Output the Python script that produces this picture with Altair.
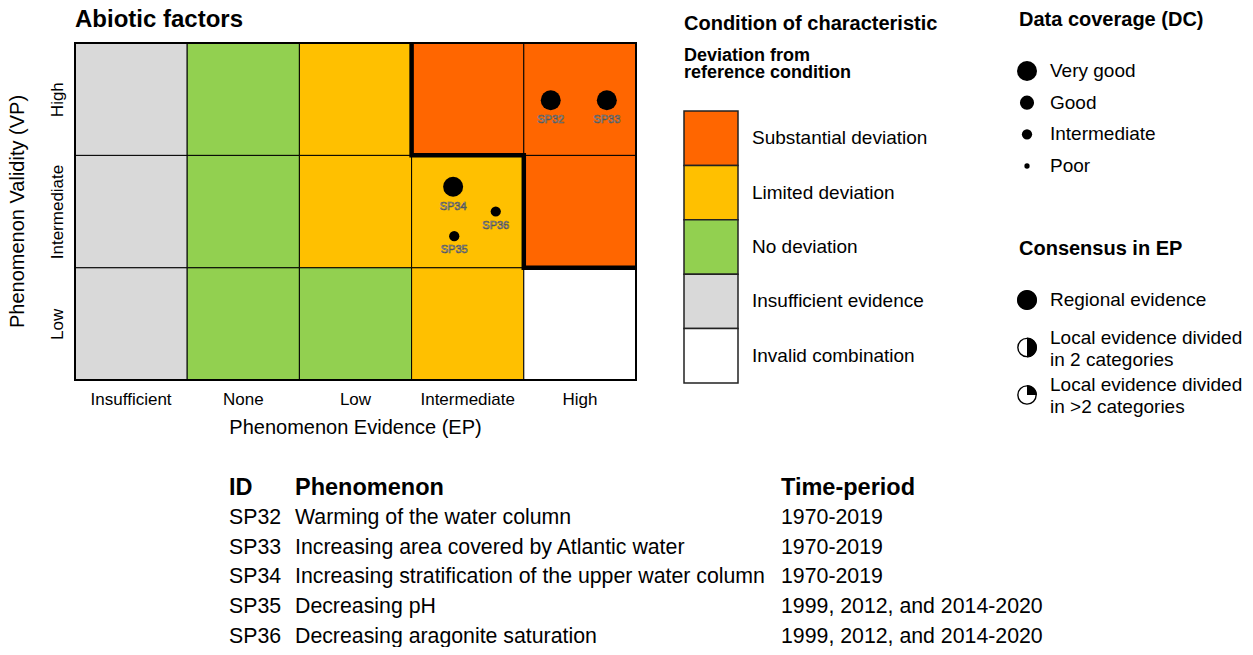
import json
import math
import altair as alt
import pandas as pd

# ---------------- data ----------------
EP_LEVELS = ["Insufficient", "None", "Low", "Intermediate", "High"]
VP_LEVELS = ["Low", "Intermediate", "High"]
STATUS = ["Substantial deviation", "Limited deviation", "No deviation",
          "Insufficient evidence", "Invalid combination"]
STATUS_COLORS = ["#FF6600", "#FFC000", "#92D050", "#D9D9D9", "#FFFFFF"]
GRID_LOW = ["Insufficient evidence", "No deviation", "No deviation",
            "Limited deviation", "Invalid combination"]
GRID_INTERMEDIATE = ["Insufficient evidence", "No deviation", "Limited deviation",
                     "Limited deviation", "Substantial deviation"]
GRID_HIGH = ["Insufficient evidence", "No deviation", "Limited deviation",
             "Substantial deviation", "Substantial deviation"]
# boundary of the "substantial deviation" region, as grid edges (EP, VP)
BOUNDARY_EP = [3, 3, 4, 4, 5]
BOUNDARY_VP = [3, 2, 2, 1, 1]

IDS = ["SP32", "SP33", "SP34", "SP35", "SP36"]
PT_EP = ["High", "High", "Intermediate", "Intermediate", "Intermediate"]
PT_VP = ["High", "High", "Intermediate", "Intermediate", "Intermediate"]
PT_DC = ["Very good", "Very good", "Very good", "Intermediate", "Intermediate"]
PT_CONSENSUS = ["Regional evidence"] * 5
PT_CELL_X = [0.24, 0.74, 0.37, 0.38, 0.75]
PT_CELL_Y = [0.49, 0.49, 0.72, 0.28, 0.50]

PHENOMENA = ["Warming of the water column",
             "Increasing area covered by Atlantic water",
             "Increasing stratification of the upper water column",
             "Decreasing pH",
             "Decreasing aragonite saturation"]
PERIODS = ["1970-2019", "1970-2019", "1970-2019",
           "1999, 2012, and 2014-2020", "1999, 2012, and 2014-2020"]
TABLE_HEAD = ["ID", "Phenomenon", "Time-period"]

DC_LEVELS = ["Very good", "Good", "Intermediate", "Poor"]
CONS_LEVELS = ["Regional evidence",
               "Local evidence divided\nin 2 categories",
               "Local evidence divided\nin >2 categories"]
CONS_SHARE = [1.0, 0.5, 0.25]

TITLE = "Abiotic factors"
X_TITLE = "Phenomenon Evidence (EP)"
Y_TITLE = "Phenomenon Validity (VP)"
LEG1_TITLE = "Condition of characteristic"
LEG1_SUB = "Deviation from\nreference condition"
LEG2_TITLE = "Data coverage (DC)"
LEG3_TITLE = "Consensus in EP"

FONT = "Liberation Sans"
DC_SIZES = [400, 200, 105, 28]


def wedge_path(share):
    """SVG symbol path (unit square) of a black wedge covering `share` of a disc."""
    if share >= 1:
        return "M0,-1 A1,1 0 1,1 0,1 A1,1 0 1,1 0,-1 Z"
    a = share * 2 * math.pi
    large = 1 if share > 0.5 else 0
    return f"M0,0 L0,-1 A1,1 0 {large},1 {math.sin(a):.4f},{-math.cos(a):.4f} Z"


# ---------------- tables ----------------
grid_rows = {"Low": GRID_LOW, "Intermediate": GRID_INTERMEDIATE, "High": GRID_HIGH}
cells = pd.DataFrame([
    {"ep": ep, "vp": vp, "status": grid_rows[vp][i],
     "x0": i, "x1": i + 1, "y0": VP_LEVELS.index(vp), "y1": VP_LEVELS.index(vp) + 1}
    for vp in VP_LEVELS for i, ep in enumerate(EP_LEVELS)
])
ep_df = pd.DataFrame({"ep": EP_LEVELS, "xc": [i + 0.5 for i in range(len(EP_LEVELS))]})
frame = pd.DataFrame({"x0": [0], "x1": [len(EP_LEVELS)], "y0": [0], "y1": [len(VP_LEVELS)]})
boundary = pd.DataFrame({"bx": BOUNDARY_EP, "by": BOUNDARY_VP, "k": range(len(BOUNDARY_EP))})
points = pd.DataFrame({
    "id": IDS, "dc": PT_DC, "cons": PT_CONSENSUS,
    "px": [EP_LEVELS.index(e) + f for e, f in zip(PT_EP, PT_CELL_X)],
    "py": [VP_LEVELS.index(v) + f for v, f in zip(PT_VP, PT_CELL_Y)],
})
status_df = pd.DataFrame({"status": STATUS, "i": range(len(STATUS))})
dc_df = pd.DataFrame({"dc": DC_LEVELS, "i": range(len(DC_LEVELS))})
cons_df = pd.DataFrame({"label": CONS_LEVELS, "share": CONS_SHARE, "i": range(len(CONS_LEVELS))})
head_df = pd.DataFrame({"t": TABLE_HEAD, "c": range(3), "r": [0, 0, 0]})
rows = []
for r, (a, b, c) in enumerate(zip(IDS, PHENOMENA, PERIODS), start=1):
    rows += [{"t": a, "c": 0, "r": r}, {"t": b, "c": 1, "r": r}, {"t": c, "c": 2, "r": r}]
body_df = pd.DataFrame(rows)

# ---------------- scales ----------------
GX = alt.Scale(domain=[0, len(EP_LEVELS)], range=[0, 561], nice=False, zero=False)
GY = alt.Scale(domain=[0, len(VP_LEVELS)], range=[337, 0], nice=False, zero=False)
fill_scale = alt.Scale(domain=STATUS, range=STATUS_COLORS)
size_scale = alt.Scale(type="ordinal", domain=DC_LEVELS, range=DC_SIZES)
shape_scale = alt.Scale(domain=CONS_LEVELS, range=[wedge_path(s) for s in CONS_SHARE])

vp_expr = json.dumps(VP_LEVELS) + "[floor(datum.value)]"

heat = alt.Chart(cells).mark_rect(stroke="black", strokeWidth=1).encode(
    x=alt.X("x0:Q", scale=GX, axis=None),
    x2="x1:Q",
    y=alt.Y("y0:Q", scale=GY, axis=alt.Axis(
        values=[i + 0.5 for i in range(len(VP_LEVELS))], labelExpr=vp_expr,
        ticks=False, domain=False, grid=False, labelFontSize=17, labelColor="black",
        labelAngle=-90, labelAlign="center", labelBaseline="bottom", labelPadding=9,
        title=None, labelFont=FONT)),
    y2="y1:Q",
    fill=alt.Fill("status:N", scale=fill_scale, legend=None),
)

xlabels = alt.Chart(ep_df).mark_text(
    align="center", baseline="middle", fontSize=17, font=FONT, color="black").encode(
    x=alt.X("xc:Q", scale=GX, axis=None), y=alt.value(357), text="ep:N")

frame_l = alt.Chart(frame).mark_rect(fillOpacity=0, stroke="black", strokeWidth=2).encode(
    x=alt.X("x0:Q", scale=GX, axis=None), x2="x1:Q",
    y=alt.Y("y0:Q", scale=GY, axis=None), y2="y1:Q")

boundary_l = alt.Chart(boundary).mark_line(color="black", strokeWidth=4.5,
                                           strokeJoin="miter", strokeCap="butt").encode(
    x=alt.X("bx:Q", scale=GX, axis=None), y=alt.Y("by:Q", scale=GY, axis=None),
    order="k:O")

pts = alt.Chart(points).mark_circle(color="black", opacity=1).encode(
    x=alt.X("px:Q", scale=GX, axis=None), y=alt.Y("py:Q", scale=GY, axis=None),
    size=alt.Size("dc:N", scale=size_scale, legend=None))

lab_style = dict(fontSize=11, fill="#f4f4f4", stroke="#555555", strokeWidth=0.7,
                 align="center", baseline="middle", font=FONT)
lab_big = alt.Chart(points).transform_filter(alt.datum.dc == "Very good").mark_text(dy=20, **lab_style).encode(
    x=alt.X("px:Q", scale=GX, axis=None), y=alt.Y("py:Q", scale=GY, axis=None), text="id:N")
lab_small = alt.Chart(points).transform_filter(alt.datum.dc != "Very good").mark_text(dy=14, **lab_style).encode(
    x=alt.X("px:Q", scale=GX, axis=None), y=alt.Y("py:Q", scale=GY, axis=None), text="id:N")


def heading(txt, x, y, size, weight="bold", line_height=None, align="left", angle=None):
    kw = dict(align=align, baseline="middle", fontSize=size, fontWeight=weight,
              font=FONT, color="black", lineBreak="\n")
    if line_height:
        kw["lineHeight"] = line_height
    if angle is not None:
        kw["angle"] = angle
    return alt.Chart(pd.DataFrame({"t": [txt]})).mark_text(**kw).encode(
        text="t:N", x=alt.value(x), y=alt.value(y))


title_l = heading(TITLE, 0, -23, 24)
xtitle_l = heading(X_TITLE, 280.5, 385, 20, weight="normal", align="center")
ytitle_l = heading(Y_TITLE, -57, 168.5, 20, weight="normal", align="center", angle=270)
leg1_t = heading(LEG1_TITLE, 609, -19, 20)
leg1_s = heading(LEG1_SUB, 609, 13, 18, line_height=17)
leg2_t = heading(LEG2_TITLE, 944, -23, 20)
leg3_t = heading(LEG3_TITLE, 944, 206, 20)

LY1 = alt.Scale(domain=[0, len(STATUS)], range=[68, 340], nice=False, zero=False)
leg1_boxes = alt.Chart(status_df).transform_calculate(i2="datum.i + 1").mark_rect(
    stroke="#222222", strokeWidth=1.5).encode(
    x=alt.value(609), x2=alt.value(663),
    y=alt.Y("i:Q", scale=LY1, axis=None), y2="i2:Q",
    fill=alt.Fill("status:N", scale=fill_scale, legend=None))
leg1_labels = alt.Chart(status_df).transform_calculate(ic="datum.i + 0.5").mark_text(
    align="left", baseline="middle", fontSize=19, font=FONT, color="black").encode(
    x=alt.value(677), y=alt.Y("ic:Q", scale=LY1, axis=None), text="status:N")

LY2 = alt.Scale(domain=[0, len(DC_LEVELS) - 1], range=[28, 123], nice=False, zero=False)
leg2_pts = alt.Chart(dc_df).mark_circle(color="black", opacity=1).encode(
    x=alt.value(952), y=alt.Y("i:Q", scale=LY2, axis=None),
    size=alt.Size("dc:N", scale=size_scale, legend=None))
leg2_labels = alt.Chart(dc_df).mark_text(
    align="left", baseline="middle", fontSize=19, font=FONT, color="black").encode(
    x=alt.value(975), y=alt.Y("i:Q", scale=LY2, axis=None), text="dc:N")

LY3 = alt.Scale(domain=[0, len(CONS_LEVELS) - 1], range=[257, 352], nice=False, zero=False)
leg3_ring = alt.Chart(cons_df).mark_circle(fill="white", stroke="black", strokeWidth=1.4,
                                           fillOpacity=1, strokeOpacity=1, size=335).encode(
    x=alt.value(952), y=alt.Y("i:Q", scale=LY3, axis=None))
leg3_wedge = alt.Chart(cons_df).mark_point(filled=True, color="black", opacity=1,
                                           strokeWidth=0, size=400).encode(
    x=alt.value(952), y=alt.Y("i:Q", scale=LY3, axis=None),
    shape=alt.Shape("label:N", scale=shape_scale, legend=None))
lab3_kw = dict(align="left", baseline="middle", fontSize=19, font=FONT, color="black",
               lineBreak="\n", lineHeight=22)
leg3_lab1 = alt.Chart(cons_df).transform_filter("indexof(datum.label, '\\n') < 0").mark_text(
    **lab3_kw).encode(x=alt.value(975), y=alt.Y("i:Q", scale=LY3, axis=None), text="label:N")
leg3_lab2 = alt.Chart(cons_df).transform_filter("indexof(datum.label, '\\n') >= 0").mark_text(
    dy=-10, **lab3_kw).encode(x=alt.value(975), y=alt.Y("i:Q", scale=LY3, axis=None), text="label:N")

TX = alt.Scale(domain=[0, 1, 2], range=[154, 220, 706], nice=False, zero=False)
TY = alt.Scale(domain=[0, len(IDS)], range=[445, 594], nice=False, zero=False)
table_head = alt.Chart(head_df).mark_text(
    align="left", baseline="middle", fontSize=23.5, fontWeight="bold", font=FONT, color="black").encode(
    x=alt.X("c:Q", scale=TX, axis=None), y=alt.Y("r:Q", scale=TY, axis=None), text="t:N")
table_body = alt.Chart(body_df).mark_text(
    align="left", baseline="middle", fontSize=21.3, font=FONT, color="black").encode(
    x=alt.X("c:Q", scale=TX, axis=None), y=alt.Y("r:Q", scale=TY, axis=None), text="t:N")

chart = alt.layer(
    heat, frame_l, boundary_l, pts, lab_big, lab_small, xlabels,
    title_l, xtitle_l, ytitle_l, leg1_t, leg1_s, leg2_t, leg3_t,
    leg1_boxes, leg1_labels, leg2_pts, leg2_labels,
    leg3_ring, leg3_wedge, leg3_lab1, leg3_lab2, table_head, table_body,
).resolve_scale(x="independent", y="independent").properties(
    width=1166, height=604, autosize="none",
    padding={"left": 67, "top": 35, "right": 2, "bottom": 0},
).configure(font=FONT).configure_view(strokeWidth=0)

chart.save("out.html", embed_options={"renderer": "svg", "actions": False})
